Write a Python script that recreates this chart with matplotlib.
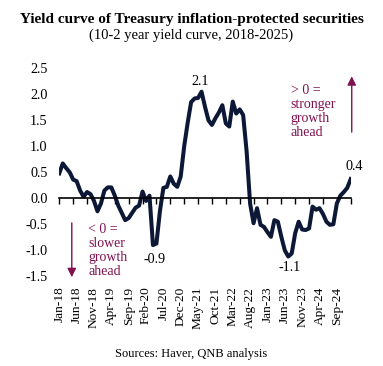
import matplotlib
matplotlib.use('Agg')
import matplotlib.pyplot as plt
import numpy as np

plt.rcParams['font.family'] = ['Liberation Serif', 'DejaVu Serif']

# 10-2 year TIPS yield curve, monthly Jan-18 .. Jan-25
spread = [
    0.48, 0.67, 0.58, 0.50, 0.36, 0.33, 0.15, 0.03, 0.12, 0.08,   # 2018
    -0.05, -0.25,
    -0.10, 0.15, 0.21, 0.21, 0.05, -0.14, -0.28, -0.42, -0.38, -0.28,  # 2019
    -0.18, -0.14,
    0.13, -0.05, 0.05, -0.90, -0.87, -0.25, 0.20, 0.22, 0.42, 0.28,    # 2020
    0.22, 0.42,
    1.00, 1.45, 1.85, 1.92, 1.93, 2.05, 1.76, 1.50, 1.41, 1.54,        # 2021
    1.65, 1.79,
    1.44, 1.38, 1.86, 1.63, 1.71, 1.60, 0.90, -0.10, -0.48, -0.19,     # 2022
    -0.51, -0.55,
    -0.65, -0.74, -0.42, -0.45, -0.74, -1.00, -1.12, -1.06, -0.67, -0.45,  # 2023
    -0.60, -0.61,
    -0.58, -0.16, -0.22, -0.19, -0.30, -0.45, -0.51, -0.50, -0.10, 0.05,   # 2024
    0.12, 0.20,
    0.37,                                                               # 2025
]
tick_labels = ['Jan-18', 'Jun-18', 'Nov-18', 'Apr-19', 'Sep-19', 'Feb-20',
               'Jul-20', 'Dec-20', 'May-21', 'Oct-21', 'Mar-22', 'Aug-22',
               'Jan-23', 'Jun-23', 'Nov-23', 'Apr-24', 'Sep-24']
y_ticks = [-1.5, -1.0, -0.5, 0.0, 0.5, 1.0, 1.5, 2.0, 2.5]

x = np.arange(len(spread))
navy = '#0c1836'
maroon = '#80124f'

fig = plt.figure(figsize=(3.83, 3.66), dpi=100)
ax = fig.add_axes([59.3 / 383, 1 - 276.3 / 366, 291.4 / 383, 208 / 366])

ax.plot(x, spread, color=navy, lw=2.9, solid_joinstyle='round')
ax.set_xlim(0, len(spread) - 1)
ax.set_ylim(-1.5, 2.5)

# zero line with small ticks every 4 months
for s in ['left', 'right', 'top']:
    ax.spines[s].set_visible(False)
ax.spines['bottom'].set_position(('data', 0))
ax.spines['bottom'].set_linewidth(1.2)
ax.set_xticks(np.arange(0, len(spread), 4))
ax.tick_params(axis='x', direction='out', length=4, width=1.0, labelbottom=False)

ax.set_yticks(y_ticks)
ax.set_yticklabels([f'{v:.1f}' for v in y_ticks], fontsize=10.2)
ax.tick_params(axis='y', length=0, pad=8.5)

sec = ax.secondary_xaxis(0)
sec.set_xticks(np.arange(0, len(spread), 5))
sec.set_xticklabels(tick_labels, rotation=90, fontsize=9.6)
sec.tick_params(length=0, pad=7.5)
sec.spines['bottom'].set_visible(False)

# value labels
ax.text(40.5, 2.25, '2.1', ha='center', va='center', fontsize=10.2)
ax.text(27.6, -1.17, '-0.9', ha='center', va='center', fontsize=10.2)
ax.text(66.5, -1.34, '-1.1', ha='center', va='center', fontsize=10.2)
ax.text(84.9, 0.61, '0.4', ha='center', va='center', fontsize=10.2)

# guide arrows and notes
ax.annotate('', xy=(3.6, -1.57), xytext=(3.6, -0.42),
            arrowprops=dict(arrowstyle='-|>', color=maroon, lw=1.0, mutation_scale=13),
            annotation_clip=False)
ax.text(8.3, -0.47, '< 0 =\nslower\ngrowth\nahead', color=maroon, fontsize=10,
        va='top', ha='left', linespacing=1.1)
ax.annotate('', xy=(84.3, 2.4), xytext=(84.3, 1.22),
            arrowprops=dict(arrowstyle='-|>', color=maroon, lw=1.0, mutation_scale=13),
            annotation_clip=False)
ax.text(66.7, 2.2, '> 0 =\nstronger\ngrowth\nahead', color=maroon, fontsize=10,
        va='top', ha='left', linespacing=1.1)

fig.text(0.5, 1 - 20 / 366, 'Yield curve of Treasury inflation-protected securities',
         ha='center', va='center', fontsize=11, weight='bold')
fig.text(0.5, 1 - 35 / 366, '(10-2 year yield curve, 2018-2025)',
         ha='center', va='center', fontsize=10.5)
fig.text(0.5, 1 - 354 / 366, 'Sources: Haver, QNB analysis',
         ha='center', va='center', fontsize=9)

fig.savefig('out.png', dpi=100)
